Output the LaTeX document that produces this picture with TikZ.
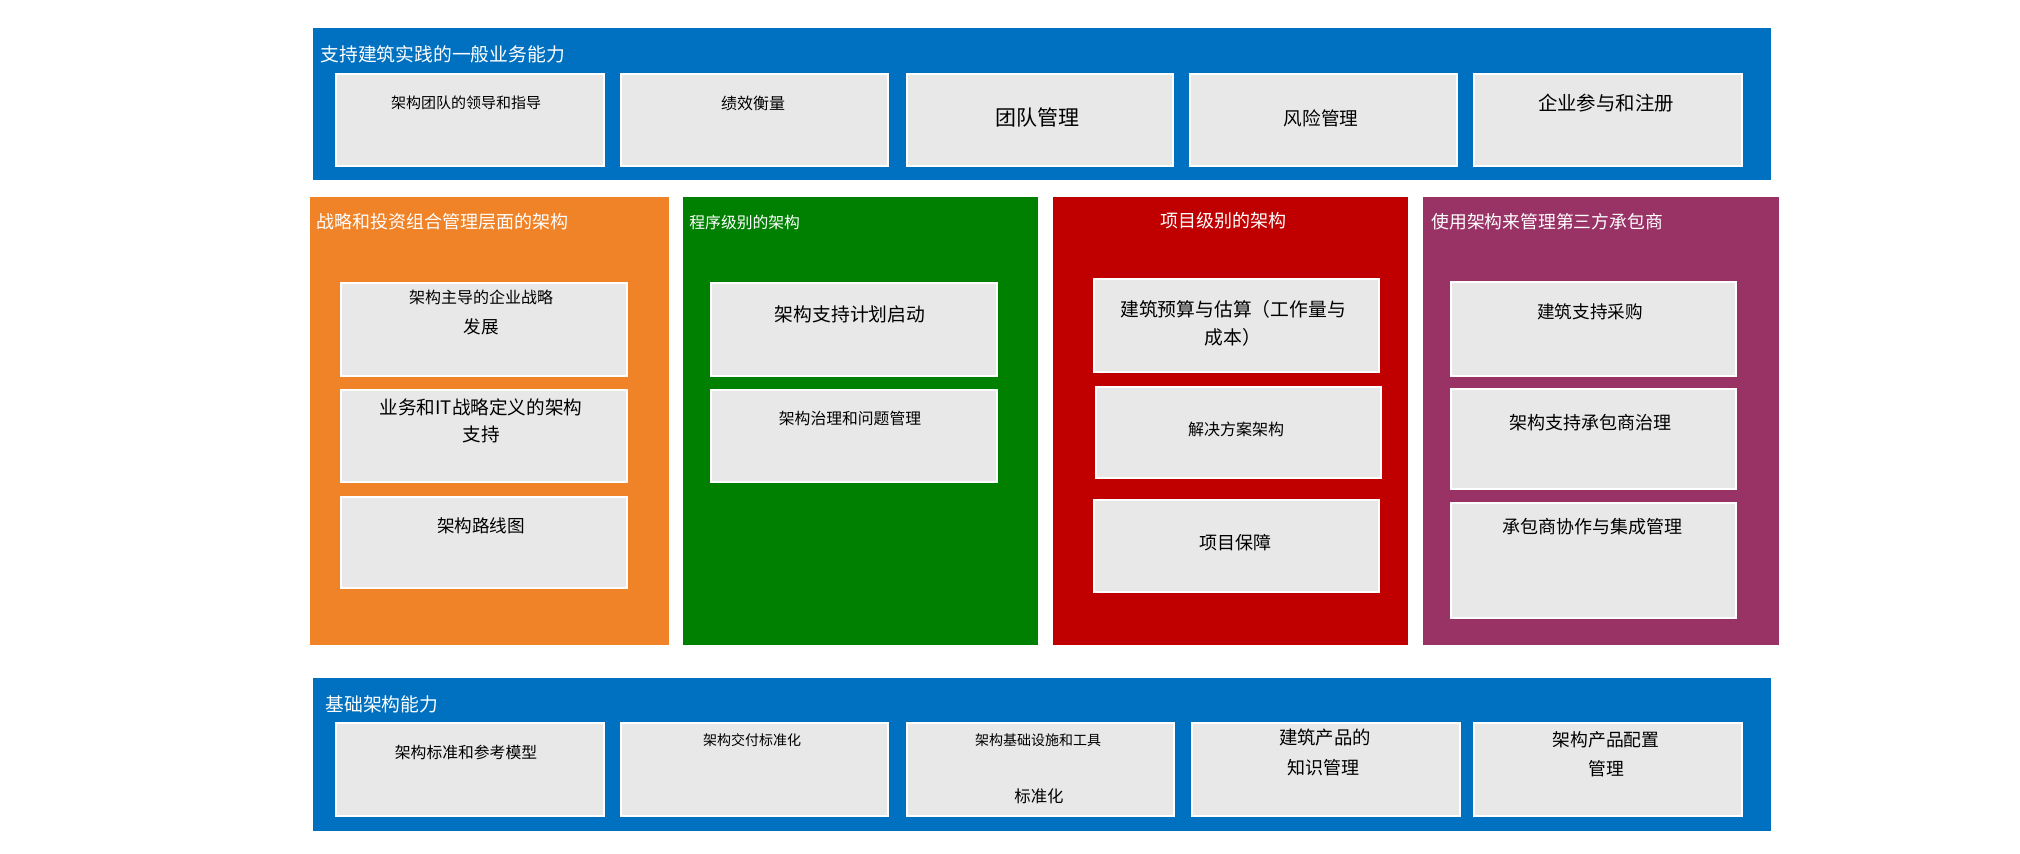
\documentclass[tikz,border=0pt]{standalone}
\usepackage{fontspec}
\newfontfamily\cjk{Noto Sans CJK SC}
\tikzset{
  cardtxt/.style={font=\cjk\fontsize{#1}{#1}\selectfont, inner sep=0pt, text=black},
  bandtitle/.style={font=\cjk\fontsize{#1}{#1}\selectfont, inner sep=0pt, text=white, anchor=west},
}
\begin{document}
\begin{tikzpicture}[x=0.5pt, y=-0.5pt]
% capability map, pixel grid of 2020 x 854
\providecommand{\capCardColor}{black!9}
\providecommand{\capCardEdge}{white}
\providecommand{\capCardLineWidth}{0.6pt}
\useasboundingbox (0,0) rectangle (2020,854);
% Bands and columns
\begin{scope}[fill={rgb,255:red,0;green,112;blue,192}]
  \fill (313,28) rectangle (1771,180);
  \fill (313,678) rectangle (1771,831);
\end{scope}
\fill[fill={rgb,255:red,240;green,130;blue,40}] (310,197) rectangle (669,645);
\fill[fill={rgb,255:red,0;green,128;blue,0}] (683,197) rectangle (1038,645);
\fill[fill={rgb,255:red,192;green,0;blue,0}] (1053,197) rectangle (1408,645);
\fill[fill={rgb,255:red,153;green,51;blue,102}] (1423,197) rectangle (1779,645);
% Cards
\begin{scope}[fill=\capCardColor, draw=\capCardEdge, line width=\capCardLineWidth]
  % top row
  \filldraw (336,74) rectangle (604,166);
  \filldraw (621,74) rectangle (888,166);
  \filldraw (907,74) rectangle (1173,166);
  \filldraw (1190,74) rectangle (1457,166);
  \filldraw (1474,74) rectangle (1742,166);
  % strategy column
  \filldraw (341,283) rectangle (627,376);
  \filldraw (341,390) rectangle (627,482);
  \filldraw (341,497) rectangle (627,588);
  % programme column
  \filldraw (711,283) rectangle (997,376);
  \filldraw (711,390) rectangle (997,482);
  % project column
  \filldraw (1094,279) rectangle (1379,372);
  \filldraw (1096,387) rectangle (1381,478);
  \filldraw (1094,500) rectangle (1379,592);
  % contractor column
  \filldraw (1451,282) rectangle (1736,376);
  \filldraw (1451,389) rectangle (1736,489);
  \filldraw (1451,503) rectangle (1736,618);
  % bottom row
  \filldraw (336,723) rectangle (604,816);
  \filldraw (621,723) rectangle (888,816);
  \filldraw (907,723) rectangle (1174,816);
  \filldraw (1192,723) rectangle (1460,816);
  \filldraw (1474,723) rectangle (1742,816);
\end{scope}
% Titles
\node[bandtitle=9.4] (gentitle) at (320,54) {支持建筑实践的一般业务能力};
\node[bandtitle=9] (strattitle) at (316,222) {战略和投资组合管理层面的架构};
\node[bandtitle=7.9] (progtitle) at (689,222) {程序级别的架构};
\node[bandtitle=9] (projtitle) at (1160,221) {项目级别的架构};
\node[bandtitle=8.9] (contrtitle) at (1431,222) {使用架构来管理第三方承包商};
\node[bandtitle=9.4] (basetitle) at (325,704) {基础架构能力};
% Card texts, top row
\node[cardtxt=7.5] (leadtxt) at (466,103) {架构团队的领导和指导};
\node[cardtxt=8] (perftxt) at (753,103) {绩效衡量};
\node[cardtxt=10.5] (teamtxt) at (1037,118) {团队管理};
\node[cardtxt=9.3] (risktxt) at (1321,118) {风险管理};
\node[cardtxt=9.7] (regtxt) at (1606,103) {企业参与和注册};
% Card texts, columns
\node[cardtxt=8] (stratone) at (481,297) {架构主导的企业战略};
\node[cardtxt=8.8] (strattwo) at (481,327) {发展};
\node[cardtxt=9.3] (itone) at (481,407) {业务和IT战略定义的架构};
\node[cardtxt=9.3] (ittwo) at (481,434) {支持};
\node[cardtxt=8.8] (roadtxt) at (481,526) {架构路线图};
\node[cardtxt=9.4] (launchtxt) at (850,314) {架构支持计划启动};
\node[cardtxt=7.9] (govtxt) at (850,418) {架构治理和问题管理};
\node[cardtxt=9.4] (budgetone) at (1233,309) {建筑预算与估算（工作量与};
\node[cardtxt=9.4] (budgettwo) at (1233,337) {成本）};
\node[cardtxt=8] (soltxt) at (1236,429) {解决方案架构};
\node[cardtxt=9] (assurtxt) at (1235,543) {项目保障};
\node[cardtxt=8.8] (proctxt) at (1590,312) {建筑支持采购};
\node[cardtxt=9] (contrgov) at (1590,423) {架构支持承包商治理};
\node[cardtxt=9] (collabtxt) at (1592,527) {承包商协作与集成管理};
% Card texts, bottom row
\node[cardtxt=7.9] (stdtxt) at (466,752) {架构标准和参考模型};
\node[cardtxt=7] (delivtxt) at (752,740) {架构交付标准化};
\node[cardtxt=7] (infraone) at (1038,740) {架构基础设施和工具};
\node[cardtxt=8.2] (infratwo) at (1039,796) {标准化};
\node[cardtxt=9.2] (knowone) at (1325,738) {建筑产品的};
\node[cardtxt=9] (knowtwo) at (1323,768) {知识管理};
\node[cardtxt=8.9] (confone) at (1606,740) {架构产品配置};
\node[cardtxt=8.9] (conftwo) at (1606,769) {管理};
\end{tikzpicture}
\end{document}
